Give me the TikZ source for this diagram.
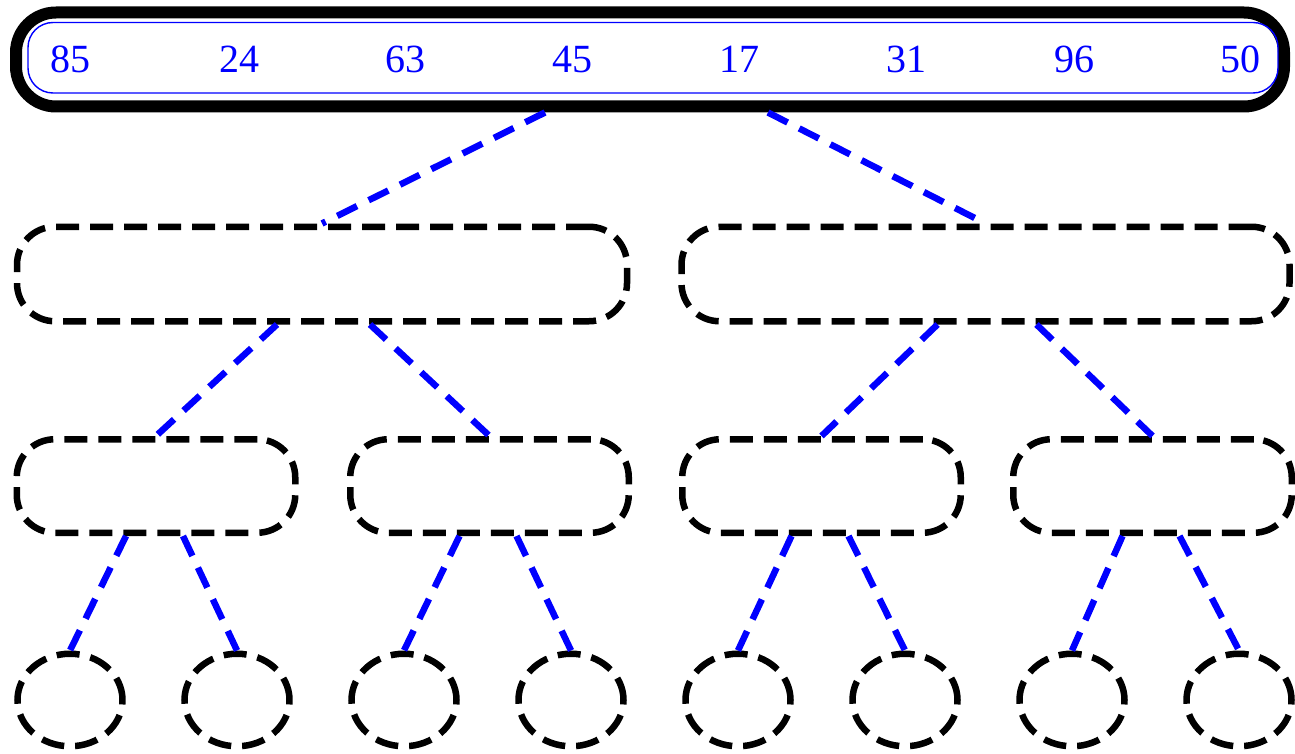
\documentclass[tikz,border=0pt]{standalone}
\usepackage{fontspec}
\usetikzlibrary{shapes.geometric}
\setmainfont{Liberation Serif}
\begin{document}
\begin{tikzpicture}[x=1pt,y=-1pt,
  bigbox/.style={draw, dash pattern=on 23pt off 11pt, line width=6.5pt, rounded corners=38pt, inner sep=0pt},
  leaf/.style={draw, ellipse, dash pattern=on 23pt off 11pt, line width=6.5pt, minimum width=105pt, minimum height=92.5pt, inner sep=0pt},
  conn/.style={draw=blue, dash pattern=on 22pt off 13pt, line width=6.5pt},
  num/.style={text=blue, font=\fontsize{40}{40}\selectfont, anchor=base, inner sep=0pt}
]
\useasboundingbox (0,0) rectangle (1295,754);
% top array
\node[draw, line width=12pt, rounded corners=40pt, minimum width=1268pt, minimum height=94pt, inner sep=0pt] (top) at (650,59.5) {};
\node[draw=blue, line width=1.4pt, rounded corners=25pt, minimum width=1250pt, minimum height=70.5pt, inner sep=0pt] (arr) at (653,57.75) {};
\node[num] (n1) at (70,73) {85};
\node[num] (n2) at (239,73) {24};
\node[num] (n3) at (405,73) {63};
\node[num] (n4) at (572,73) {45};
\node[num] (n5) at (739,73) {17};
\node[num] (n6) at (906,73) {31};
\node[num] (n7) at (1074,73) {96};
\node[num] (n8) at (1240,73) {50};
% level 1
\node[bigbox, minimum width=610pt, minimum height=94.5pt] (l1a) at (322,274) {};
\node[bigbox, minimum width=608pt, minimum height=94.5pt] (l1b) at (985.5,274) {};
% level 2
\node[bigbox, minimum width=278.5pt, minimum height=93.5pt] (l2a) at (156,486) {};
\node[bigbox, minimum width=278.5pt, minimum height=93.5pt] (l2b) at (489.5,486) {};
\node[bigbox, minimum width=278.5pt, minimum height=93.5pt] (l2c) at (821.5,486) {};
\node[bigbox, minimum width=278.5pt, minimum height=93.5pt] (l2d) at (1152.5,486) {};
% level 3
\node[leaf] (l3a) at (70,700) {};
\node[leaf] (l3b) at (237,700) {};
\node[leaf] (l3c) at (404,700) {};
\node[leaf] (l3d) at (571,700) {};
\node[leaf] (l3e) at (738,700) {};
\node[leaf] (l3f) at (905,700) {};
\node[leaf] (l3g) at (1072,700) {};
\node[leaf] (l3h) at (1239,700) {};
% connectors
\draw[conn] ([xshift=-105pt]top.south) -- (l1a.north);
\draw[conn] ([xshift=118pt]top.south) -- (l1b.north);
\draw[conn] ([xshift=-45pt]l1a.south) -- (l2a.north);
\draw[conn] ([xshift=48pt]l1a.south) -- (l2b.north);
\draw[conn] ([xshift=-48pt]l1b.south) -- (l2c.north);
\draw[conn] ([xshift=51pt]l1b.south) -- (l2d.north);
\draw[conn] ([xshift=-30pt]l2a.south) -- (l3a.north);
\draw[conn] ([xshift=27pt]l2a.south) -- (l3b.north);
\draw[conn] ([xshift=-30pt]l2b.south) -- (l3c.north);
\draw[conn] ([xshift=27pt]l2b.south) -- (l3d.north);
\draw[conn] ([xshift=-30pt]l2c.south) -- (l3e.north);
\draw[conn] ([xshift=27pt]l2c.south) -- (l3f.north);
\draw[conn] ([xshift=-30pt]l2d.south) -- (l3g.north);
\draw[conn] ([xshift=27pt]l2d.south) -- (l3h.north);
\end{tikzpicture}
\end{document}
